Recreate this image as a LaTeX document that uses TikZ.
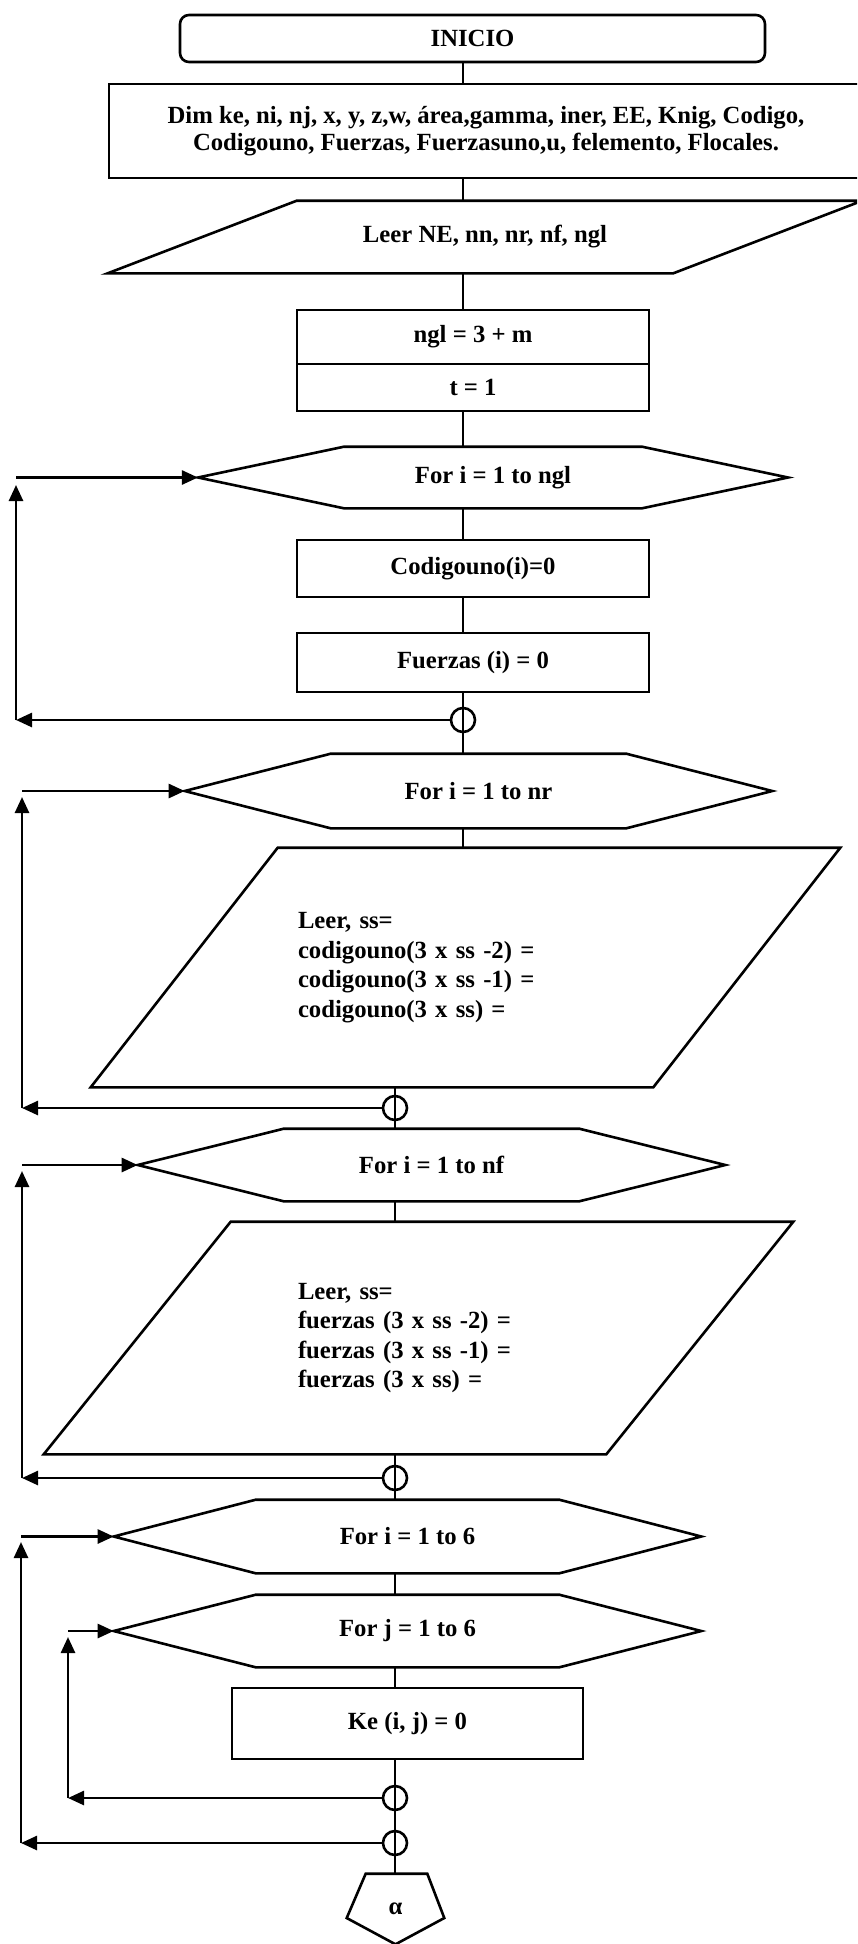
\documentclass[tikz,border=0pt]{standalone}
\usepackage{fontspec}
\setmainfont{Liberation Serif}
\usetikzlibrary{arrows.meta,calc}
\newcommand\hexout[2]{% node name, inset
  \draw (#1.west) -- ([xshift=#2pt]#1.north west) -- ([xshift=-#2pt]#1.north east) -- (#1.east)
        -- ([xshift=-#2pt]#1.south east) -- ([xshift=#2pt]#1.south west) -- cycle;}
\newcommand\paraout[2]{% node name, offset
  \draw ([xshift=#2pt]#1.north west) -- (#1.north east) -- ([xshift=-#2pt]#1.south east)
        -- (#1.south west) -- cycle;}
\begin{document}
\begin{tikzpicture}[x=1pt,y=-1pt,line width=2.6pt,
  font=\fontsize{24.7}{29.5}\selectfont\bfseries,
  box/.style={draw,rectangle,inner sep=0pt,align=center},
  shp/.style={rectangle,inner sep=0pt,align=center},
  arr/.style={-{Triangle[length=16pt,width=14pt]}},
  joint/.style={circle,draw,minimum size=24pt,inner sep=0pt}]
\useasboundingbox (0,0) rectangle (857,1944);
\clip (0,0) rectangle (857,1944);
\fill[white] (0,0) rectangle (857,1944);
\coordinate (mA) at (463,0);
\coordinate (mB) at (395,0);

% nodes
\node[box,rounded corners=9pt,minimum width=585pt,minimum height=47pt] (ini) at (472.5,38.5) {\raisebox{-2pt}{INICIO}};
\node[box,minimum width=754pt,minimum height=94pt] (dim) at (486,131)
  {\raisebox{3pt}{\begin{tabular}{@{}c@{}}Dim ke, ni, nj, x, y, z,w, área,gamma, iner, EE, Knig, Codigo,\\[-2pt]Codigouno, Fuerzas, Fuerzasuno,u, felemento, Flocales.\end{tabular}}};
\node[shp,minimum width=752pt,minimum height=70pt] (leer) at (485,237) {Leer NE, nn, nr, nf, ngl};
\paraout{leer}{189}
\node[box,minimum width=352pt,minimum height=54pt] (ngl) at (473,337) {ngl = 3 + m};
\node[box,minimum width=352pt,minimum height=47pt] (t) at (473,387.5) {t = 1};
\node[shp,minimum width=587.5pt,minimum height=59pt] (hngl) at (493,477.5) {For i = 1 to ngl};
\hexout{hngl}{146}
\node[box,minimum width=352pt,minimum height=57pt] (cod) at (473,568.5) {Codigouno(i)=0};
\node[box,minimum width=352pt,minimum height=59pt] (fz) at (473,662.5) {Fuerzas (i) = 0};
\node[shp,minimum width=585pt,minimum height=72pt] (hnr) at (478.5,791) {For i = 1 to nr};
\hexout{hnr}{146}
\node[shp,minimum width=747pt,minimum height=237pt,text width=335pt,align=left] (p1) at (465.5,967.5)
  {Leer, ss=\\codigouno(3 x ss -2) =\\codigouno(3 x ss -1) =\\codigouno(3 x ss) =};
\paraout{p1}{187}
\node[shp,minimum width=585pt,minimum height=70pt] (hnf) at (431.5,1165) {For i = 1 to nf};
\hexout{hnf}{146}
\node[shp,minimum width=747pt,minimum height=230pt,text width=241pt,align=left] (p2) at (418.5,1338)
  {Leer, ss=\\fuerzas (3 x ss -2) =\\fuerzas (3 x ss -1) =\\fuerzas (3 x ss) =};
\paraout{p2}{187}
\node[shp,minimum width=585pt,minimum height=71pt] (hi) at (407.5,1536.5) {For i = 1 to 6};
\hexout{hi}{142}
\node[shp,minimum width=585pt,minimum height=70pt] (hj) at (407.5,1631) {For j = 1 to 6};
\hexout{hj}{142}
\node[box,minimum width=351pt,minimum height=71pt] (ke) at (407.5,1723.5) {\raisebox{6pt}{Ke (i, j) = 0}};
\node[shp,minimum width=95pt,minimum height=68pt] (pent) at (395.5,1909) {α};
\draw ([xshift=19pt]pent.north west) -- ([xshift=-17pt]pent.north east) -- ([yshift=-9pt]pent.east)
      -- (pent.south) -- ([yshift=-9pt]pent.west) -- cycle;

% main connectors
\draw (ini.south -| mA) -- (dim.north -| mA);
\draw (dim.south -| mA) -- (leer.north -| mA);
\draw (leer.south -| mA) -- (ngl.north -| mA);
\draw (t.south -| mA) -- (hngl.north -| mA);
\draw (hngl.south -| mA) -- (cod.north -| mA);
\draw (cod.south -| mA) -- (fz.north -| mA);
\draw (fz.south -| mA) -- (hnr.north -| mA);
\draw (hnr.south -| mA) -- (p1.north -| mA);
\draw (p1.south -| mB) -- (hnf.north -| mB);
\draw (hnf.south -| mB) -- (p2.north -| mB);
\draw (p2.south -| mB) -- (hi.north -| mB);
\draw (hi.south -| mB) -- (hj.north -| mB);
\draw (hj.south -| mB) -- (ke.north -| mB);
\draw (ke.south -| mB) -- (pent.north -| mB);

% joints
\node[joint] (c0) at (463,720) {};
\node[joint] (c1) at (395,1108) {};
\node[joint] (c2) at (395,1478) {};
\node[joint] (c3) at (395,1798) {};
\node[joint] (c4) at (395,1843) {};

% loop 1
\coordinate (a1) at (16,720);
\coordinate (b1) at (16,485);
\coordinate (d1) at (16,477.5);
\draw[arr] (c0.west) -- (a1);
\draw[arr] (a1) -- (b1);
\draw[arr] (d1) -- (hngl.west);
% loop 2
\coordinate (a2) at (22,1108);
\coordinate (b2) at (22,797);
\coordinate (d2) at (22,791);
\draw[arr] (c1.west) -- (a2);
\draw[arr] (a2) -- (b2);
\draw[arr] (d2) -- (hnr.west);
% loop 3
\coordinate (a3) at (22,1478);
\coordinate (b3) at (22,1171);
\coordinate (d3) at (22,1165);
\draw[arr] (c2.west) -- (a3);
\draw[arr] (a3) -- (b3);
\draw[arr] (d3) -- (hnf.west);
% loop 4 (outer)
\coordinate (a4) at (21,1843);
\coordinate (b4) at (21,1542);
\coordinate (d4) at (21,1536.5);
\draw[arr] (c4.west) -- (a4);
\draw[arr] (a4) -- (b4);
\draw[arr] (d4) -- (hi.west);
% loop 5 (inner)
\coordinate (a5) at (68,1798);
\coordinate (b5) at (68,1637);
\coordinate (d5) at (68,1631);
\draw[arr] (c3.west) -- (a5);
\draw[arr] (a5) -- (b5);
\draw[arr] (d5) -- (hj.west);
\end{tikzpicture}
\end{document}
